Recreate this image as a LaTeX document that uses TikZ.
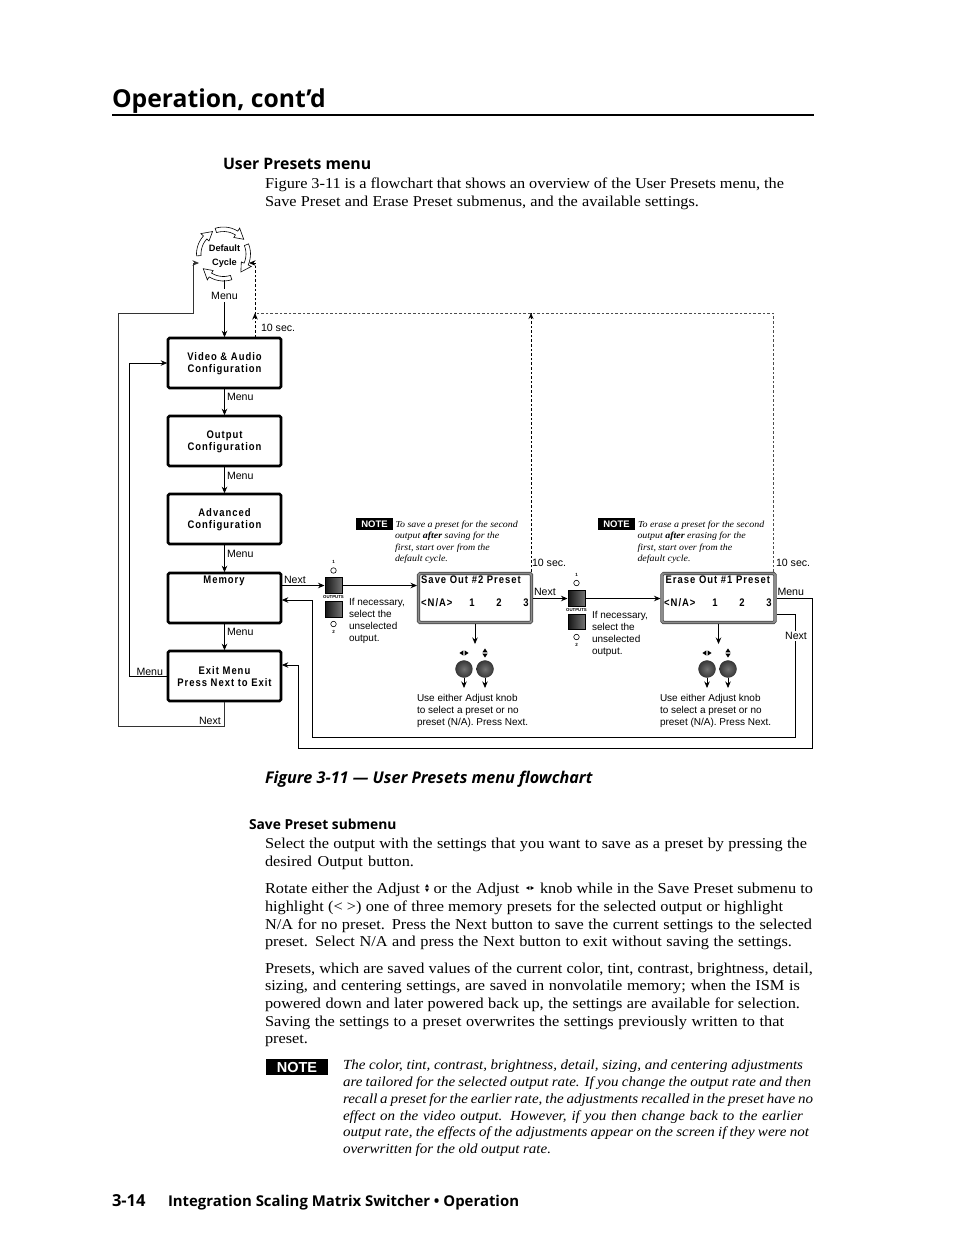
\documentclass[tikz,border=0pt]{standalone}
\usepackage{fontspec}
\usetikzlibrary{arrows.meta}
\setmainfont{Liberation Serif}[FakeStretch=1.08]
\setsansfont{Liberation Sans}
\newfontfamily\headf{Open Sans}
\newfontfamily\lcdf{Liberation Sans}[FakeStretch=0.86,LetterSpace=9]
\newcounter{tn}
\newcommand\tl[4][body]{\stepcounter{tn}\node[#1] (t\arabic{tn}) at (#2,#3) {#4};}
\newcommand\wl[5][body]{\stepcounter{tn}\node[#1] (t\arabic{tn}) at (#2,#3) {\makebox[#4pt][s]{#5}};}
\newcommand\updn[2]{\begin{scope}[shift={(#1,#2)}]\fill (-2.6,-.6)--(2.6,-.6)--(0,-4.6)--cycle;\fill (-2.6,.6)--(2.6,.6)--(0,4.6)--cycle;\end{scope}}
\newcommand\lfrt[2]{\begin{scope}[shift={(#1,#2)}]\fill (-.6,-2.6)--(-.6,2.6)--(-4.6,0)--cycle;\fill (.6,-2.6)--(.6,2.6)--(4.6,0)--cycle;\end{scope}}
\newcommand\upd[2]{\begin{scope}[shift={(#1,#2)}]\fill (-2,-.6)--(2,-.6)--(0,-4)--cycle;\fill (-2,.6)--(2,.6)--(0,4)--cycle;\end{scope}}
\newcommand\lrt[2]{\begin{scope}[shift={(#1,#2)}]\fill (-.6,-2)--(-.6,2)--(-4,0)--cycle;\fill (.6,-2)--(.6,2)--(4,0)--cycle;\end{scope}}
\tikzset{
  txt/.style={anchor=base west,inner sep=0,outer sep=0,align=left},
  body/.style={txt,font=\fontsize{15.1}{18}\selectfont},
  nbody/.style={txt,font=\fontsize{13.9}{18}\selectfont\itshape},
  small/.style={txt,font=\sffamily\fontsize{10}{12}\selectfont},
  lab/.style={txt,font=\sffamily\fontsize{10.6}{12}\selectfont},
  ntext/.style={txt,font=\fontsize{9.2}{12}\selectfont\itshape},
  menubox/.style={draw,line width=2.6,rounded corners=1.5,minimum width=113,minimum height=50,inner sep=0,outer sep=.8},
  lcdbox/.style={draw=black!75,line width=.7,double=black!45,double distance=1.8,rounded corners=1.5,minimum width=113,minimum height=49,inner sep=0,outer sep=1.5},
  lcd/.style={inner sep=0,align=center,font=\lcdf\bfseries\fontsize{11}{12}\selectfont},
  conn/.style={line width=.8,-{Stealth[length=6.5pt,width=5.5pt]}},
  dashline/.style={line width=.8,dash pattern=on 2.6pt off 2pt},
  btn/.style={inner sep=0,minimum width=17,minimum height=15.5,draw=black,line width=1,left color=black!92,right color=black!55},
  led/.style={circle,draw,line width=.6,inner sep=0,minimum size=5.5,fill=white},
  knob/.style={circle,inner sep=0,minimum size=17,inner color=black!55,outer color=black!78,draw=black!85,line width=.3},
  notebox/.style={fill=black,text=white,inner sep=0,minimum width=37,minimum height=12,font=\sffamily\bfseries\fontsize{9.5}{10}\selectfont},
  tiny1/.style={inner sep=0,font=\sffamily\bfseries\fontsize{4.5}{5}\selectfont},
  tiny2/.style={inner sep=0,font=\sffamily\bfseries\fontsize{4.3}{5}\selectfont},
}
\begin{document}
\begin{tikzpicture}[x=1pt,y=-1pt]
\useasboundingbox[fill=white] (0,0) rectangle (954,1235);
% page header
\tl[txt,font=\headf\bfseries\fontsize{24.7}{30}\selectfont]{112}{107}{Operation, cont’d}
\draw[line width=1.8] (112,115) -- (814,115);
\tl[txt,font=\headf\bfseries\fontsize{15.8}{18}\selectfont]{223}{169}{User Presets menu}
\wl{265}{188}{519}{Figure 3-11 is a flowchart that shows an overview of the User Presets menu, the}
\wl{265}{206}{434}{Save Preset and Erase Preset submenus, and the available settings.}

% default cycle
\begin{scope}[shift={(223.5,254)}]
\foreach \a/\b in {-108/-58,-22/24,72/122,176/222}{
  \filldraw[fill=white,draw=black,line width=.6] plot[domain=\a:\b,samples=8] (\x:27) -- (\b:30.5) -- ({\b+22}:25) -- (\b:19.5) -- (\b:22.5) -- plot[domain=\b:\a,samples=8] (\x:22.5) -- cycle;
}
\end{scope}
\node[inner sep=0,minimum size=48,circle,align=center,font=\sffamily\bfseries\fontsize{9.2}{13.5}\selectfont] (cyc) at (224.5,256) {Default\\Cycle};
\coordinate (cycL) at (199,263);
\coordinate (cycR) at (249,263);
\node[lab,anchor=center,inner sep=3] (menu0) at (224.5,295.7) {Menu};

% menu boxes
\node[menubox] (va) at (224.5,363) {};
\node[lcd] (valab) at (224.5,364) {Video \& Audio\\Configuration};
\node[menubox] (op) at (224.5,441) {};
\node[lcd] (oplab) at (224.5,442) {Output\\Configuration};
\node[menubox] (ad) at (224.5,519) {};
\node[lcd] (adlab) at (224.5,520) {Advanced\\Configuration};
\node[menubox] (me) at (224.5,598) {};
\node[lcd] (melab) at (224,581) {Memory};
\node[menubox] (ex) at (224.5,676) {};
\node[lcd] (exlab) at (224.5,677) {Exit Menu\\Press Next to Exit};

\tl[lab]{227}{400.5}{Menu}
\tl[lab]{227}{479}{Menu}
\tl[lab]{227}{557}{Menu}
\tl[lab]{227}{635}{Menu}
\tl[lab]{136.5}{675}{Menu}
\tl[lab]{199}{724}{Next}
\tl[lab]{284}{583}{Next}
\tl[lab]{534}{595}{Next}
\tl[lab]{777.5}{595}{Menu}
\tl[lab]{261}{331}{10 sec.}
\tl[lab]{532}{566.5}{10 sec.}
\tl[lab]{776}{566.5}{10 sec.}

% first output buttons
\node[btn] (b1) at (333.5,585.5) {};
\node[btn] (b2) at (333.5,609.5) {};
\node[led] (l1) at (333.5,570.5) {};
\node[led] (l2) at (333.5,624) {};
\node[tiny1] (d1) at (333.5,562) {1};
\node[tiny1] (d2) at (333.5,632) {2};
\node[tiny2] (o1) at (333.5,597.5) {OUTPUTS};
\tl[small]{349}{605.5}{If necessary,}
\tl[small]{349}{617.5}{select the}
\tl[small]{349}{629.5}{unselected}
\tl[small]{349}{641.5}{output.}

% save box
\node[lcdbox] (sv) at (475,598) {};
\node[lcd,anchor=base west] (svt) at (421,583.5) {Save Out \#2 Preset};
\node[lcd,anchor=base west] (sv0) at (421,606.5) {<N/A>};
\node[lcd,anchor=base] (sv1) at (472,606.5) {1};
\node[lcd,anchor=base] (sv2) at (499,606.5) {2};
\node[lcd,anchor=base] (sv3) at (526,606.5) {3};

% second output buttons
\node[btn] (b3) at (576.5,598.5) {};
\node[btn] (b4) at (576.5,622) {};
\node[led] (l3) at (576.5,583) {};
\node[led] (l4) at (576.5,637) {};
\node[tiny1] (d3) at (576.5,574.5) {1};
\node[tiny1] (d4) at (576.5,645) {2};
\node[tiny2] (o2) at (576.5,610) {OUTPUTS};
\tl[small]{592}{618.5}{If necessary,}
\tl[small]{592}{630.5}{select the}
\tl[small]{592}{642.5}{unselected}
\tl[small]{592}{654.5}{output.}

% erase box
\node[lcdbox] (er) at (718.5,598) {};
\node[lcd,anchor=base west] (ert) at (665.5,583.5) {Erase Out \#1 Preset};
\node[lcd,anchor=base west] (er0) at (664,606.5) {<N/A>};
\node[lcd,anchor=base] (er1) at (715,606.5) {1};
\node[lcd,anchor=base] (er2) at (742,606.5) {2};
\node[lcd,anchor=base] (er3) at (769,606.5) {3};

% notes
\node[notebox] (n1) at (374.5,524) {NOTE};
\tl[ntext]{395.5}{527}{To save a preset for the second}
\tl[ntext]{395}{538.5}{output \textbf{after} saving for the}
\tl[ntext]{395}{550}{first, start over from the}
\tl[ntext]{395}{561.5}{default cycle.}
\node[notebox] (n2) at (616.5,524) {NOTE};
\tl[ntext]{638}{527}{To erase a preset for the second}
\tl[ntext]{637.5}{538.5}{output \textbf{after} erasing for the}
\tl[ntext]{637.5}{550}{first, start over from the}
\tl[ntext]{637.5}{561.5}{default cycle.}

% knobs
\node[knob] (k1) at (464,669) {};
\node[knob] (k2) at (485,669) {};
\node[knob] (k3) at (707,669) {};
\node[knob] (k4) at (728,669) {};
\lfrt{464}{653}\updn{485}{653}\lfrt{707}{653}\updn{728}{653}
\coordinate (k1e) at (464,688);
\coordinate (k2e) at (485,688);
\coordinate (k3e) at (707,688);
\coordinate (k4e) at (728,688);
\coordinate (k1t) at (475,644);
\coordinate (k3t) at (718.5,644);
\tl[small]{417}{701.5}{Use either Adjust knob}
\tl[small]{417}{713.5}{to select a preset or no}
\tl[small]{417}{725.5}{preset (N/A).  Press Next.}
\tl[small]{660}{701.5}{Use either Adjust knob}
\tl[small]{660}{713.5}{to select a preset or no}
\tl[small]{660}{725.5}{preset (N/A).  Press Next.}

% connectors
\draw[line width=1.4] (cyc.south) -- (menu0.north);
\draw[conn] (menu0.south) -- (va.north);
\draw[conn] (va.south) -- (op.north);
\draw[conn] (op.south) -- (ad.north);
\draw[conn] (ad.south) -- (me.north);
\draw[conn] (me.south) -- (ex.north);
\draw[conn] (ex.west) -- (129,676) |- (va.west);
\draw[conn,draw=black!80] (ex.south) |- (118,726) |- (193,313) |- (cycL);
\draw[conn] (me.east |- b1.west) -- (b1.west);
\draw[conn] (b1.east) -- (sv.west |- b1.east);
\draw[conn] (sv.east |- b3.west) -- (b3.west);
\draw[conn] (b3.east) -- (er.west |- b3.east);
\draw[conn] (sv.south) -- (k1t);
\draw[conn] (er.south) -- (k3t);
\draw[conn] (k1.south) -- (k1e);
\draw[conn] (k2.south) -- (k2e);
\draw[conn] (k3.south) -- (k3e);
\draw[conn] (k4.south) -- (k4e);
\draw[conn] (er.east |- 0,598.5) -- (812,598.5) |- (298,748) |- (ex.east |- 0,665);
\draw[conn] (er.east |- 0,614) -- (795,614) |- (312,737) |- (me.east |- 0,600);
\node[lab,anchor=center,fill=white,inner sep=1.5] (nxt) at (796,636) {Next};
% time-out paths
\draw[dashline,black!70] (er.north -| 773,0) -- (773,313) -- (255,313);
\draw[dashline] (sv.north -| 531,0) -- (531,313);
\draw[-{Stealth[length=6pt,width=5pt]},line width=.8] (531,319) -- (531,313);
\draw[dashline] (va.north -| 255,0) -- (255,270) -- (255,263);
\draw[-{Stealth[length=6.5pt,width=5.5pt]},line width=.8] (255,319) -- (255,313);
\draw[-{Stealth[length=6.5pt,width=5.5pt]},line width=.8] (255,263) -- (cycR);

\tl[txt,font=\headf\bfseries\itshape\fontsize{16.2}{18}\selectfont]{265}{783}{Figure 3-11 — User Presets menu flowchart}

% lower text
\tl[txt,font=\headf\bfseries\fontsize{13.8}{16}\selectfont]{249}{829}{Save Preset submenu}
\wl{265}{848}{542}{Select the output with the settings that you want to save as a preset by pressing the}
\wl{265}{866}{149}{desired Output button.}
\wl{265}{893}{155}{Rotate either the Adjust}
\upd{427}{888}
\wl{433.5}{893}{86}{or the Adjust}
\lrt{530}{888}
\wl{540}{893}{273}{knob while in the Save Preset submenu to}
\wl{265}{911}{518}{highlight (< >) one of three memory presets for the selected output or highlight}
\wl{265}{929}{547}{N/A for no preset.  Press the Next button to save the current settings to the selected}
\wl{265}{946}{527}{preset.  Select N/A and press the Next button to exit without saving the settings.}
\wl{265}{973}{548}{Presets, which are saved values of the current color, tint, contrast, brightness, detail,}
\wl{265}{990}{535}{sizing, and centering settings, are saved in nonvolatile memory; when the ISM is}
\wl{265}{1008}{535}{powered down and later powered back up, the settings are available for selection.}
\wl{265}{1026}{519}{Saving the settings to a preset overwrites the settings previously written to that}
\tl{265}{1043}{preset.}
\node[notebox,minimum width=62,minimum height=16,font=\sffamily\bfseries\fontsize{14.5}{16}\selectfont] (n3) at (297,1067) {NOTE};
\wl[nbody]{343}{1069.5}{460}{The color, tint, contrast, brightness, detail, sizing, and centering adjustments}
\wl[nbody]{343}{1086}{468}{are tailored for the selected output rate.  If you change the output rate and then}
\wl[nbody]{343}{1103}{470}{recall a preset for the earlier rate, the adjustments recalled in the preset have no}
\wl[nbody]{343}{1120}{460}{effect on the video output.  However, if you then change back to the earlier}
\wl[nbody]{343}{1136.5}{466}{output rate, the effects of the adjustments appear on the screen if they were not}
\wl[nbody]{343}{1153.5}{208}{overwritten for the old output rate.}
\tl[txt,font=\headf\bfseries\fontsize{16.5}{18}\selectfont]{112}{1206}{3-14}
\tl[txt,font=\headf\bfseries\fontsize{14.9}{18}\selectfont]{168}{1206}{Integration Scaling Matrix Switcher • Operation}
\end{tikzpicture}
\end{document}
